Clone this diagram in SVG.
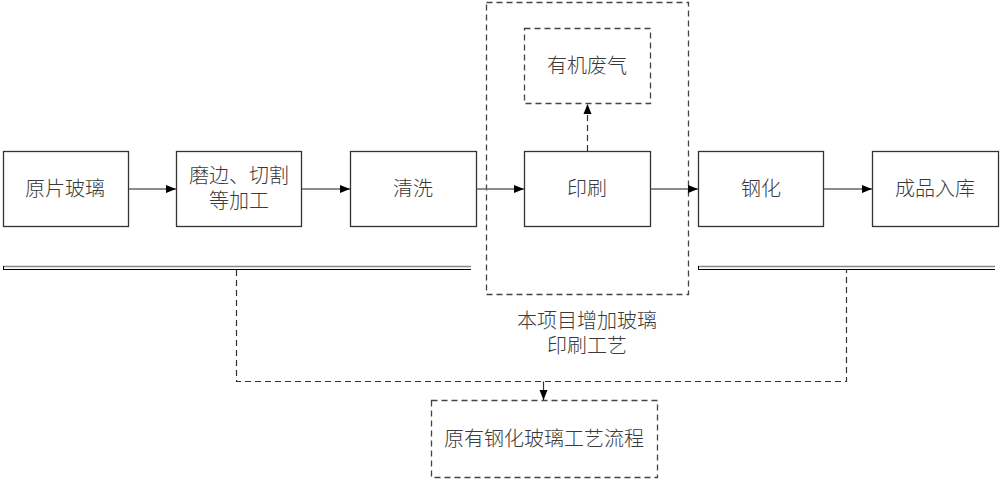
<svg xmlns="http://www.w3.org/2000/svg" width="1002" height="480" viewBox="0 0 1002 480">
<style>
.box{fill:#fff;stroke:#333;stroke-width:1.3}
.dbox{fill:none;stroke:#444;stroke-width:1.3;stroke-dasharray:6 4}
.t{font-family:"Noto Sans CJK SC",sans-serif;font-size:20px;font-weight:300;fill:#3a3a3a;text-anchor:middle}
.c{stroke:#666;stroke-width:1.6;fill:none}
.dc{stroke:#333;stroke-width:1.2;fill:none;stroke-dasharray:6 4}
</style>
<defs>
<marker id="ah" viewBox="0 0 10 10" refX="10" refY="5" markerWidth="10" markerHeight="10" markerUnits="userSpaceOnUse" orient="auto">
<path d="M0,1 L10,5 L0,9 Z" fill="#000"/>
</marker>
</defs>
<rect width="1002" height="480" fill="#fff"/>
<g id="group-new">
<rect class="dbox" x="486.5" y="2.5" width="202" height="292"/>
<text class="t"><tspan x="587" y="328">本项目增加玻璃</tspan><tspan x="587" y="353">印刷工艺</tspan></text>
</g>
<g id="bars">
<line x1="3" y1="266.5" x2="471" y2="266.5" stroke="#888" stroke-width="1.5"/>
<line x1="3" y1="269.5" x2="471" y2="269.5" stroke="#000" stroke-width="1.2"/>
<line x1="3.5" y1="266" x2="3.5" y2="270" stroke="#000" stroke-width="1"/>
<line x1="698" y1="266.5" x2="995" y2="266.5" stroke="#888" stroke-width="1.5"/>
<line x1="698" y1="269.5" x2="995" y2="269.5" stroke="#000" stroke-width="1.2"/>
<line x1="698.5" y1="266" x2="698.5" y2="270" stroke="#000" stroke-width="1"/>
</g>
<g id="n1"><rect class="box" x="3.5" y="151.5" width="125" height="75"/><text class="t" x="65" y="196">原片玻璃</text></g>
<g id="n2"><rect class="box" x="176.5" y="151.5" width="125" height="75"/><text class="t"><tspan x="239" y="183">磨边、切割</tspan><tspan x="239" y="208">等加工</tspan></text></g>
<g id="n3"><rect class="box" x="350.5" y="151.5" width="126" height="75"/><text class="t" x="413" y="196">清洗</text></g>
<g id="n4"><rect class="box" x="524.5" y="151.5" width="126" height="75"/><text class="t" x="587" y="196">印刷</text></g>
<g id="n5"><rect class="box" x="698.5" y="151.5" width="125" height="75"/><text class="t" x="761" y="196">钢化</text></g>
<g id="n6"><rect class="box" x="872.5" y="151.5" width="126" height="75"/><text class="t" x="935" y="196">成品入库</text></g>
<g id="n7"><rect class="dbox" x="524.5" y="28.5" width="126" height="75"/><text class="t" x="587" y="73">有机废气</text></g>
<g id="n8"><rect class="dbox" x="431.5" y="400.5" width="226" height="77"/><text class="t" x="544" y="446">原有钢化玻璃工艺流程</text></g>
<g id="connectors">
<line class="c" x1="129" y1="189" x2="176" y2="189" marker-end="url(#ah)"/>
<line class="c" x1="302" y1="189" x2="350" y2="189" marker-end="url(#ah)"/>
<line class="c" x1="477" y1="189" x2="524" y2="189" marker-end="url(#ah)"/>
<line class="c" x1="651" y1="189" x2="698" y2="189" marker-end="url(#ah)"/>
<line class="c" x1="824" y1="189" x2="872" y2="189" marker-end="url(#ah)"/>
<line class="dc" x1="587.5" y1="151" x2="587.5" y2="104" marker-end="url(#ah)"/>
<path class="dc" d="M236.5,270 V381.5 H846.5 V270"/>
<line x1="543.5" y1="381.5" x2="543.5" y2="400" stroke="#333" stroke-width="1.2" marker-end="url(#ah)"/>
</g>
</svg>
